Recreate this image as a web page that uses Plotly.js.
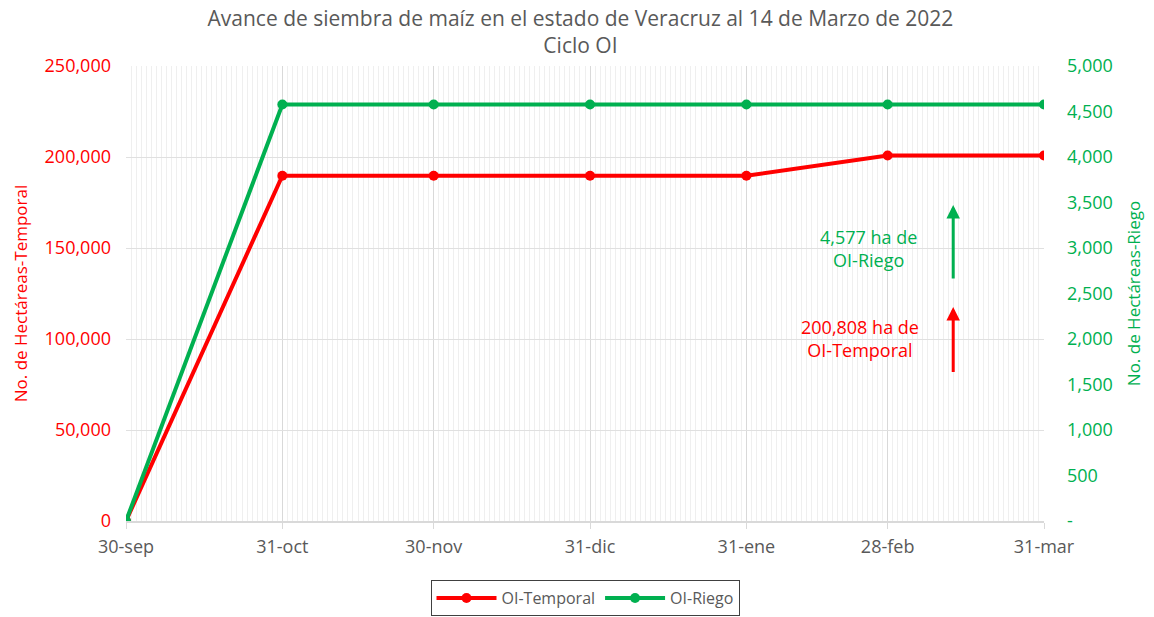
<!DOCTYPE html>
<html>
<head>
<meta charset="utf-8">
<script src="https://cdn.plot.ly/plotly-3.0.1.min.js"></script>
<style>html,body{margin:0;padding:0;background:#fff;}#chart{width:1154px;height:617px;}</style>
</head>
<body>
<div id="chart"></div>
<script>
const fechas = ['2021-09-30','2021-10-31','2021-11-30','2021-12-31','2022-01-31','2022-02-28','2022-03-31'];
const etiquetas = ['30-sep','31-oct','30-nov','31-dic','31-ene','28-feb','31-mar'];
const temporal = [0, 189700, 189700, 189700, 189700, 200808, 200808];
const riego = [0, 4577, 4577, 4577, 4577, 4577, 4577];
const temporalTicks = [0,50000,100000,150000,200000,250000];
const temporalTickText = ['0','50,000','100,000','150,000','200,000','250,000'];
const riegoTicks = [0,500,1000,1500,2000,2500,3000,3500,4000,4500,5000];
const riegoTickText = ['-','500','1,000','1,500','2,000','2,500','3,000','3,500','4,000','4,500','5,000'];
const fechaNota = '2022-03-13';
const notaRiego = '4,577 ha de<br>OI-Riego';
const notaTemporal = '200,808 ha de<br>OI-Temporal';

const RED = '#FF0000', GREEN = '#00B050', GREY = '#595959';
const FONT = 'Open Sans';

const traces = [
  {x: fechas, y: temporal, name: 'OI-Temporal', type: 'scatter', mode: 'lines+markers',
   line: {color: RED, width: 4}, marker: {color: RED, size: 10}, yaxis: 'y'},
  {x: fechas, y: riego, name: 'OI-Riego', type: 'scatter', mode: 'lines+markers',
   line: {color: GREEN, width: 4}, marker: {color: GREEN, size: 10}, yaxis: 'y2'}
];

const layout = {
  width: 1154, height: 617,
  margin: {l: 126, r: 110, t: 66, b: 96, autoexpand: false},
  paper_bgcolor: '#fff', plot_bgcolor: '#fff',
  font: {family: FONT, color: GREY},
  showlegend: true,
  title: {text: 'Avance de siembra de maíz en el estado de Veracruz al 14 de Marzo de 2022<br>Ciclo OI',
          font: {family: FONT, size: 21, color: GREY}, x: 0.503, xanchor: 'center', y: 1 - 26/617, yanchor: 'middle'},
  xaxis: {
    type: 'date', range: ['2021-09-30','2022-03-31'],
    tickvals: fechas, ticktext: etiquetas,
    tickfont: {family: FONT, size: 18, color: GREY},
    showgrid: true, gridcolor: '#d9d9d9', gridwidth: 1,
    minor: {dtick: 86400000, showgrid: true, gridcolor: '#efefef', gridwidth: 1},
    ticks: 'outside', ticklen: 6, tickcolor: '#d9d9d9',
    showline: true, linecolor: '#d9d9d9', linewidth: 2,
    zeroline: false, ticklabelstandoff: 2
  },
  yaxis: {
    range: [0, 250000], tickvals: temporalTicks, ticktext: temporalTickText,
    tickfont: {family: FONT, size: 18, color: RED},
    showgrid: true, gridcolor: '#e0e0e0', zeroline: false,
    showline: false, ticks: '', ticklabelstandoff: 14,
    title: {text: 'No. de Hectáreas-Temporal', font: {family: FONT, size: 17, color: RED}, standoff: 12}
  },
  yaxis2: {
    overlaying: 'y', side: 'right', range: [0, 5000],
    tickvals: riegoTicks, ticktext: riegoTickText,
    tickfont: {family: FONT, size: 18, color: GREEN},
    showgrid: false, zeroline: false, showline: false, ticks: '', ticklabelstandoff: 22,
    title: {text: 'No. de Hectáreas-Riego', font: {family: FONT, size: 17, color: GREEN}, standoff: 16}
  },
  legend: {
    orientation: 'h', x: 0.5, xanchor: 'center', y: -0.13, yanchor: 'top',
    bordercolor: '#404040', borderwidth: 1, font: {family: FONT, size: 16, color: GREY},
    itemwidth: 60, tracegroupgap: 0, valign: 'middle'
  },
  annotations: [
    {x: fechaNota, y: 173600, ax: fechaNota, ay: 132400, xref: 'x', yref: 'y', axref: 'x', ayref: 'y',
     showarrow: true, arrowhead: 2, arrowsize: 0.9, arrowwidth: 3, arrowcolor: GREEN, text: ''},
    {x: fechaNota, y: 117600, ax: fechaNota, ay: 81000, xref: 'x', yref: 'y', axref: 'x', ayref: 'y',
     showarrow: true, arrowhead: 2, arrowsize: 0.9, arrowwidth: 3, arrowcolor: RED, text: ''},
    {x: 0, y: 0, xref: 'paper', yref: 'paper', xanchor: 'center', yanchor: 'middle', text: notaRiego, showarrow: false,
     font: {family: FONT, size: 18, color: GREEN}, align: 'center'},
    {x: 0, y: 0, xref: 'paper', yref: 'paper', xanchor: 'center', yanchor: 'middle', text: notaTemporal, showarrow: false,
     font: {family: FONT, size: 18, color: RED}, align: 'center'}
  ]
};
// place text annotations in pixel-derived paper coordinates
const pw = 1154 - 126 - 110, ph = 617 - 66 - 96;
layout.annotations[2].x = (868 - 126) / pw; layout.annotations[2].y = (521 - 248) / ph;
layout.annotations[3].x = (860 - 126) / pw; layout.annotations[3].y = (521 - 338) / ph;

Plotly.newPlot('chart', traces, layout, {displayModeBar: false});
</script>
</body>
</html>
